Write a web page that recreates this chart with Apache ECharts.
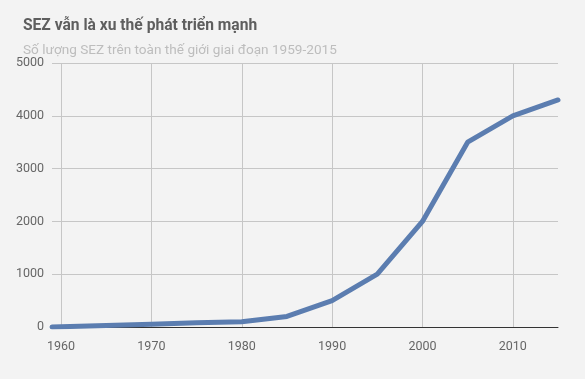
<!DOCTYPE html>
<html>
<head>
<meta charset="utf-8">
<script src="https://cdn.jsdelivr.net/npm/echarts@6/dist/echarts.min.js"></script>
<style>
html,body{margin:0;padding:0;background:#f3f3f3;}
#c{width:585px;height:379px;}
</style>
</head>
<body>
<div id="c"></div>
<script>
const titleText = 'SEZ vẫn là xu thế phát triển mạnh';
const subtitleText = 'Số lượng SEZ trên toàn thế giới giai đoạn 1959-2015';
const years = [1959, 1970, 1975, 1980, 1985, 1990, 1995, 2000, 2005, 2010, 2015];
const counts = [0, 50, 80, 100, 200, 500, 1000, 2000, 3500, 4000, 4300];
const xTicks = [1960, 1970, 1980, 1990, 2000, 2010];
const yTicks = [0, 1000, 2000, 3000, 4000, 5000];

const chart = echarts.init(document.getElementById('c'), null, {renderer: 'canvas'});
const font = 'Roboto, "Noto Sans", sans-serif';
chart.setOption({
  backgroundColor: '#f3f3f3',
  animation: false,
  title: [
    {text: titleText, left: 18, top: 13, textStyle: {fontFamily: font, fontSize: 15.6, fontWeight: 'bold', color: '#5e5e5e'}},
    {text: subtitleText, left: 18, top: 39, textStyle: {fontFamily: font, fontSize: 13.6, fontWeight: 'normal', color: '#bdbdbd'}}
  ],
  grid: {left: 52, right: 27, top: 63, bottom: 52, containLabel: false},
  xAxis: {
    type: 'value', min: 1959, max: 2015,
    axisLine: {show: true, lineStyle: {color: '#333', width: 1}},
    axisTick: {show: false, customValues: xTicks},
    axisLabel: {customValues: xTicks, formatter: v => String(v), color: '#666', fontFamily: font, fontSize: 12.5, margin: 13},
    splitLine: {show: true, lineStyle: {color: '#c6c6c6', width: 1}}
  },
  yAxis: {
    type: 'value', min: 0, max: 5000, interval: 1000,
    axisLine: {show: false},
    axisTick: {show: false},
    axisLabel: {customValues: yTicks, formatter: v => String(v), color: '#666', fontFamily: font, fontSize: 12.5, margin: 8},
    splitLine: {show: true, lineStyle: {color: '#c6c6c6', width: 1}}
  },
  series: [{
    type: 'line',
    data: years.map((y, i) => [y, counts[i]]),
    showSymbol: false,
    lineStyle: {color: '#5b7db0', width: 5, join: 'round', cap: 'round'}
  }]
});
</script>
</body>
</html>
